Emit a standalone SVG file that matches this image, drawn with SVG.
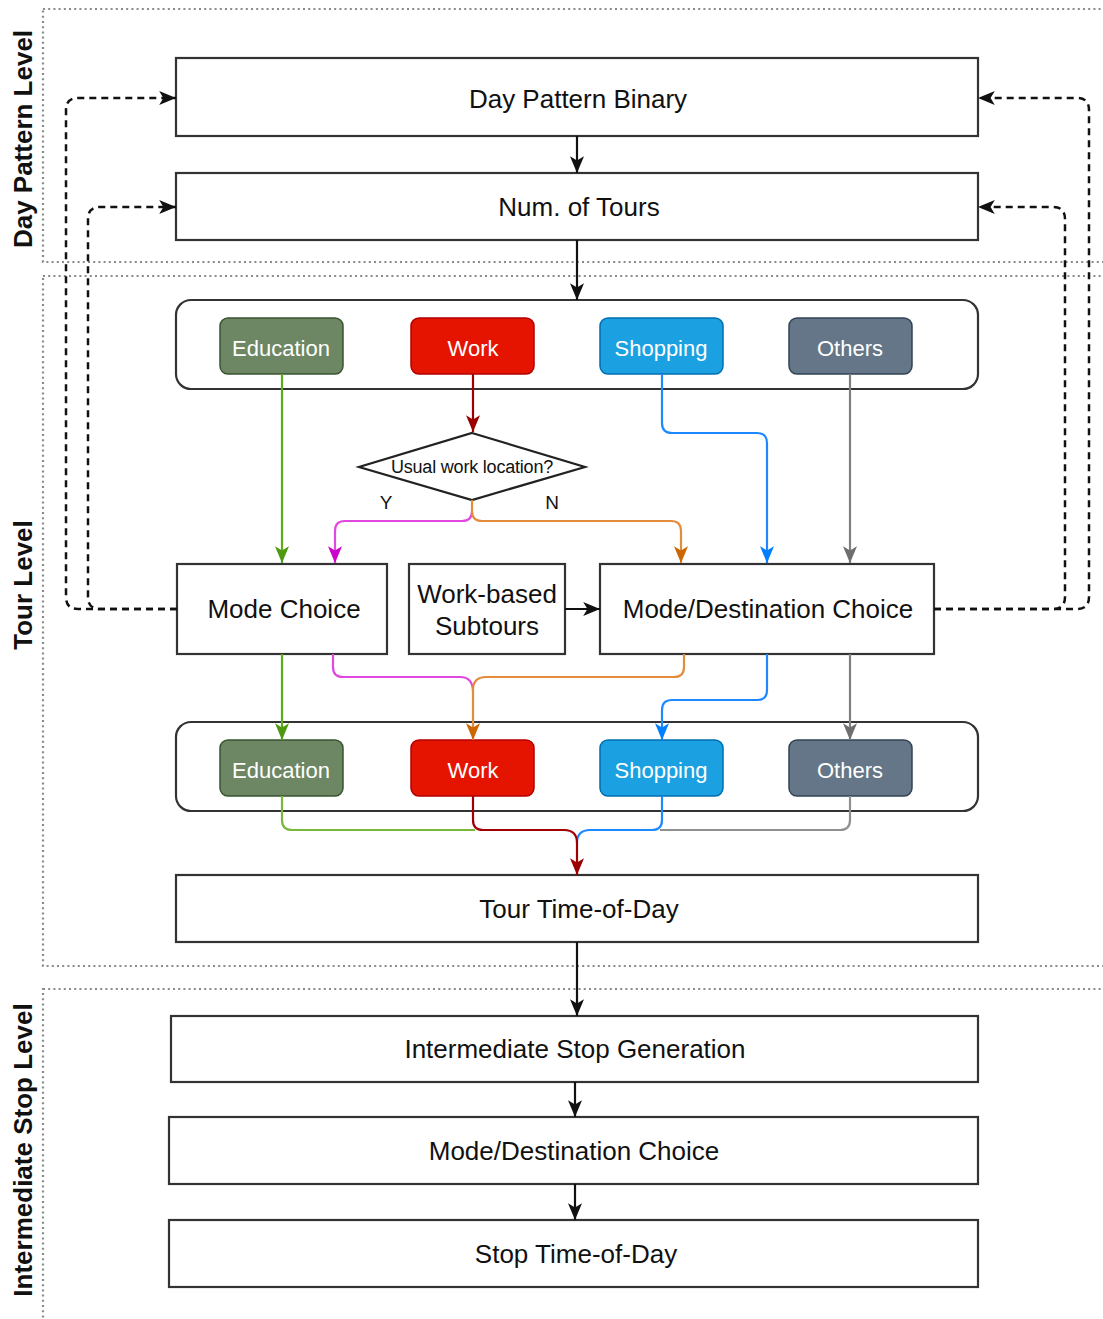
<svg xmlns="http://www.w3.org/2000/svg" width="1103" height="1319" viewBox="0 0 1103 1319">
<style>
  .lvl{fill:none;stroke:#8a8a8a;stroke-width:2.2;stroke-dasharray:2 3.2}
  .lvlt{font-family:"Liberation Sans",Arial,sans-serif;font-weight:bold;font-size:26px;fill:#111;text-anchor:middle}
  .box{fill:#fff;stroke:#333;stroke-width:2.2}
  .cont{fill:#fff;stroke:#333;stroke-width:2.2}
  .t{font-family:"Liberation Sans",Arial,sans-serif;font-size:26px;fill:#111;text-anchor:middle;dominant-baseline:central}
  .ct{font-family:"Liberation Sans",Arial,sans-serif;font-size:22px;fill:#fff;text-anchor:middle;dominant-baseline:central}
  .dt{font-family:"Liberation Sans",Arial,sans-serif;font-size:18px;fill:#111;text-anchor:middle;dominant-baseline:central;letter-spacing:-0.2px}
  .yn{font-family:"Liberation Sans",Arial,sans-serif;font-size:19px;fill:#111;text-anchor:middle;dominant-baseline:central}
  .ln{fill:none;stroke-width:2.2}
  .dash{fill:none;stroke:#111;stroke-width:2.5;stroke-dasharray:7 5}
</style>
<defs>
  <marker id="aK" viewBox="0 0 12 10" refX="12" refY="5" markerWidth="17" markerHeight="14" markerUnits="userSpaceOnUse" orient="auto"><path d="M0,0 L12,5 L0,10 L3,5 Z" fill="#111"/></marker>
  <marker id="aG" viewBox="0 0 12 10" refX="12" refY="5" markerWidth="17" markerHeight="14" markerUnits="userSpaceOnUse" orient="auto"><path d="M0,0 L12,5 L0,10 L3,5 Z" fill="#4d9a10"/></marker>
  <marker id="aR" viewBox="0 0 12 10" refX="12" refY="5" markerWidth="17" markerHeight="14" markerUnits="userSpaceOnUse" orient="auto"><path d="M0,0 L12,5 L0,10 L3,5 Z" fill="#9a0000"/></marker>
  <marker id="aB" viewBox="0 0 12 10" refX="12" refY="5" markerWidth="17" markerHeight="14" markerUnits="userSpaceOnUse" orient="auto"><path d="M0,0 L12,5 L0,10 L3,5 Z" fill="#007fff"/></marker>
  <marker id="aY" viewBox="0 0 12 10" refX="12" refY="5" markerWidth="17" markerHeight="14" markerUnits="userSpaceOnUse" orient="auto"><path d="M0,0 L12,5 L0,10 L3,5 Z" fill="#6e6e6e"/></marker>
  <marker id="aO" viewBox="0 0 12 10" refX="12" refY="5" markerWidth="17" markerHeight="14" markerUnits="userSpaceOnUse" orient="auto"><path d="M0,0 L12,5 L0,10 L3,5 Z" fill="#cc6600"/></marker>
  <marker id="aM" viewBox="0 0 12 10" refX="12" refY="5" markerWidth="17" markerHeight="14" markerUnits="userSpaceOnUse" orient="auto"><path d="M0,0 L12,5 L0,10 L3,5 Z" fill="#cc00cc"/></marker>
</defs>

<g id="levels">
  <rect class="lvl" x="43" y="9" width="1080" height="253"/>
  <rect class="lvl" x="43" y="276" width="1080" height="690"/>
  <rect class="lvl" x="43" y="989" width="1080" height="340"/>
  <text class="lvlt" transform="translate(32,139) rotate(-90)">Day Pattern Level</text>
  <text class="lvlt" transform="translate(32,585) rotate(-90)">Tour Level</text>
  <text class="lvlt" transform="translate(32,1150) rotate(-90)">Intermediate Stop Level</text>
</g>

<g id="day-pattern-binary"><rect class="box" x="176" y="58" width="802" height="78"/><text class="t" x="578" y="99">Day Pattern Binary</text></g>
<g id="num-tours"><rect class="box" x="176" y="173" width="802" height="67"/><text class="t" x="579" y="207">Num. of Tours</text></g>

<g id="purpose-top">
  <rect class="cont" x="176" y="300" width="802" height="89" rx="15"/>
</g>
<g id="edu-top"><rect x="220" y="318" width="123" height="56" rx="8" fill="#6d8764" stroke="#3a5431" stroke-width="1.5"/><text class="ct" x="281" y="348">Education</text></g>
<g id="work-top"><rect x="411" y="318" width="123" height="56" rx="8" fill="#e51400" stroke="#b20000" stroke-width="1.5"/><text class="ct" x="473" y="348">Work</text></g>
<g id="shop-top"><rect x="600" y="318" width="123" height="56" rx="8" fill="#1ba1e2" stroke="#006eaf" stroke-width="1.5"/><text class="ct" x="661" y="348">Shopping</text></g>
<g id="others-top"><rect x="789" y="318" width="123" height="56" rx="8" fill="#647687" stroke="#314354" stroke-width="1.5"/><text class="ct" x="850" y="348">Others</text></g>

<g id="usual-work"><polygon points="472,433 585,467 472,500 359,467" fill="#fff" stroke="#222" stroke-width="2.2"/><text class="dt" x="472" y="467">Usual work location?</text></g>
<g id="labels-yn"><text class="yn" x="386" y="502">Y</text><text class="yn" x="552" y="502">N</text></g>

<g id="mode-choice"><rect class="box" x="177" y="564" width="210" height="90"/><text class="t" x="284" y="609">Mode Choice</text></g>
<g id="work-based"><rect class="box" x="409" y="564" width="156" height="90"/><text class="t" x="487" y="594">Work-based</text><text class="t" x="487" y="626">Subtours</text></g>
<g id="mode-dest"><rect class="box" x="600" y="564" width="334" height="90"/><text class="t" x="768" y="609">Mode/Destination Choice</text></g>

<g id="purpose-bottom">
  <rect class="cont" x="176" y="722" width="802" height="89" rx="15"/>
</g>
<g id="edu-bot"><rect x="220" y="740" width="123" height="56" rx="8" fill="#6d8764" stroke="#3a5431" stroke-width="1.5"/><text class="ct" x="281" y="770">Education</text></g>
<g id="work-bot"><rect x="411" y="740" width="123" height="56" rx="8" fill="#e51400" stroke="#b20000" stroke-width="1.5"/><text class="ct" x="473" y="770">Work</text></g>
<g id="shop-bot"><rect x="600" y="740" width="123" height="56" rx="8" fill="#1ba1e2" stroke="#006eaf" stroke-width="1.5"/><text class="ct" x="661" y="770">Shopping</text></g>
<g id="others-bot"><rect x="789" y="740" width="123" height="56" rx="8" fill="#647687" stroke="#314354" stroke-width="1.5"/><text class="ct" x="850" y="770">Others</text></g>

<g id="tour-tod"><rect class="box" x="176" y="875" width="802" height="67"/><text class="t" x="579" y="909">Tour Time-of-Day</text></g>
<g id="stop-gen"><rect class="box" x="171" y="1016" width="807" height="66"/><text class="t" x="575" y="1049">Intermediate Stop Generation</text></g>
<g id="stop-modedest"><rect class="box" x="169" y="1117" width="809" height="67"/><text class="t" x="574" y="1151">Mode/Destination Choice</text></g>
<g id="stop-tod"><rect class="box" x="169" y="1220" width="809" height="67"/><text class="t" x="576" y="1254">Stop Time-of-Day</text></g>

<g id="connectors">
  <path class="ln" stroke="#111" d="M577,136 V173" marker-end="url(#aK)"/>
  <path class="ln" stroke="#111" d="M577,240 V300" marker-end="url(#aK)"/>
  <path class="ln" stroke="#111" d="M565,609 H600" marker-end="url(#aK)"/>
  <path class="ln" stroke="#111" d="M577,942 V1016" marker-end="url(#aK)"/>
  <path class="ln" stroke="#111" d="M575,1082 V1117" marker-end="url(#aK)"/>
  <path class="ln" stroke="#111" d="M575,1184 V1220" marker-end="url(#aK)"/>
  <path class="dash" d="M177,609 H78 Q66,609 66,597 V110 Q66,98 78,98 H176" marker-end="url(#aK)"/>
  <path class="dash" d="M177,609 H100 Q88,609 88,597 V219 Q88,207 100,207 H176" marker-end="url(#aK)"/>
  <path class="dash" d="M934,609 H1053 Q1065,609 1065,597 V219 Q1065,207 1053,207 H978" marker-end="url(#aK)"/>
  <path class="dash" d="M934,609 H1077 Q1089,609 1089,597 V110 Q1089,98 1077,98 H978" marker-end="url(#aK)"/>
  <path class="ln" stroke="#60a917" d="M282,374 V563" marker-end="url(#aG)"/>
  <path class="ln" stroke="#a20000" d="M473,374 V432" marker-end="url(#aR)"/>
  <path class="ln" stroke="#1e88ff" d="M662,374 V423 Q662,433 672,433 H757 Q767,433 767,443 V563" marker-end="url(#aB)"/>
  <path class="ln" stroke="#808080" d="M850,374 V563" marker-end="url(#aY)"/>
  <path class="ln" stroke="#e048e0" d="M472,511 Q472,521 462,521 H345 Q335,521 335,531 V563" marker-end="url(#aM)"/>
  <path class="ln" stroke="#e38c3c" d="M472,500 V511 Q472,521 482,521 H671 Q681,521 681,531 V563" marker-end="url(#aO)"/>
  <path class="ln" stroke="#60a917" d="M282,654 V740" marker-end="url(#aG)"/>
  <path class="ln" stroke="#e048e0" d="M333,654 V667 Q333,677 343,677 H460 Q473,677 473,692"/>
  <path class="ln" stroke="#e38c3c" d="M684,654 V667 Q684,677 674,677 H486 Q473,677 473,690 V740" marker-end="url(#aO)"/>
  <path class="ln" stroke="#1e88ff" d="M767,654 V690 Q767,700 757,700 H672 Q662,700 662,710 V740" marker-end="url(#aB)"/>
  <path class="ln" stroke="#808080" d="M850,654 V740" marker-end="url(#aY)"/>
  <path class="ln" stroke="#7ab83a" d="M282,796 V820 Q282,830 292,830 H475"/>
  <path class="ln" stroke="#909090" d="M850,796 V820 Q850,830 840,830 H660"/>
  <path class="ln" stroke="#1e88ff" d="M662,796 V820 Q662,830 652,830 H590 Q577,830 577,843"/>
  <path class="ln" stroke="#a20000" d="M473,796 V820 Q473,830 483,830 H564 Q577,830 577,843 V875" marker-end="url(#aR)"/>
</g>
</svg>
